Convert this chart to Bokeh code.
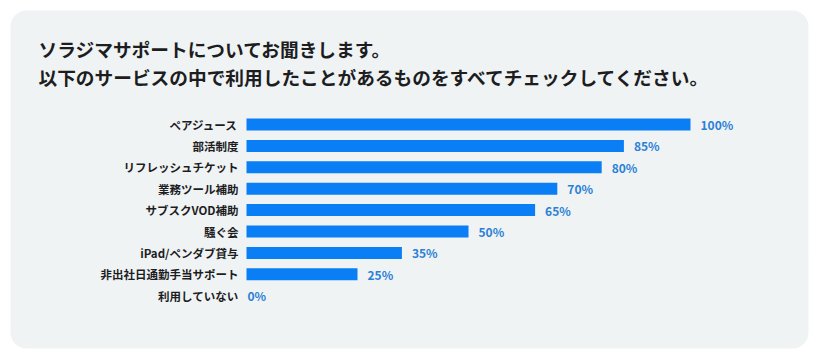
from bokeh.plotting import figure
from bokeh.models import Range1d, BoxAnnotation, ColumnDataSource, Label
from bokeh.embed import file_html
from bokeh.resources import INLINE
from bokeh.core.properties import value

title_lines = ["ソラジマサポートについてお聞きします。",
               "以下のサービスの中で利用したことがあるものをすべてチェックしてください。"]
categories = ["ペアジュース", "部活制度", "リフレッシュチケット", "業務ツール補助",
              "サブスクVOD補助", "騒ぐ会", "iPad/ペンダブ貸与", "非出社日通勤手当サポート", "利用していない"]
values = [100, 85, 80, 70, 65, 50, 35, 25, 0]

W, H = 817, 357
# pixel layout -> data ranges
x0_px, x100_px = 246, 690
ppx = (x100_px - x0_px) / 100.0
row0_px, row_step = 124, 21.4

def xd(px):
    return (px - x0_px) / ppx

def yd(px):
    return (px - row0_px) / row_step

p = figure(width=W, height=H, output_backend="svg", toolbar_location=None,
           x_range=Range1d(xd(0), xd(W)), y_range=Range1d(yd(H), yd(0)),
           min_border=0, outline_line_color=None, border_fill_color="white",
           background_fill_color="white")
p.axis.visible = False
p.grid.visible = False

card = BoxAnnotation(left=xd(10), right=xd(808), top=yd(10), bottom=yd(348),
                     fill_color="#eff3f4", fill_alpha=1.0, line_color=None,
                     border_radius=16, level="underlay")
p.add_layout(card)

rows = list(range(len(categories)))
src = ColumnDataSource(dict(y=rows, v=values, cat=categories,
                            lab=[f"{v}%" for v in values],
                            lx=[v + (10 if v > 0 else 1) / ppx for v in values],
                            cx=[-8 / ppx] * len(values)))

p.hbar(y="y", left=0, right="v", height=12 / row_step, source=src,
       fill_color="#0a7ef5", line_color=None)

p.text(x="cx", y="y", text="cat", source=src, text_align="right", text_baseline="middle",
       text_font=value("Noto Sans CJK JP"), text_font_size="11.5px", text_font_style="bold",
       text_color="#1d1d1f")
p.text(x="lx", y="y", text="lab", source=src, text_align="left", text_baseline="middle",
       text_font=value("Noto Sans CJK JP"), text_font_size="12px", text_font_style="bold",
       text_color="#2b80d6")

for i, (t, ypx) in enumerate(zip(title_lines, [48, 76])):
    p.add_layout(Label(x=xd(38), y=yd(ypx), text=t, text_align="left", text_baseline="middle",
                       text_font="Noto Sans CJK JP", text_font_size="18.7px",
                       text_font_style="bold", text_color="#1d1d1f"))

open("out.html", "w").write(file_html(p, INLINE))
